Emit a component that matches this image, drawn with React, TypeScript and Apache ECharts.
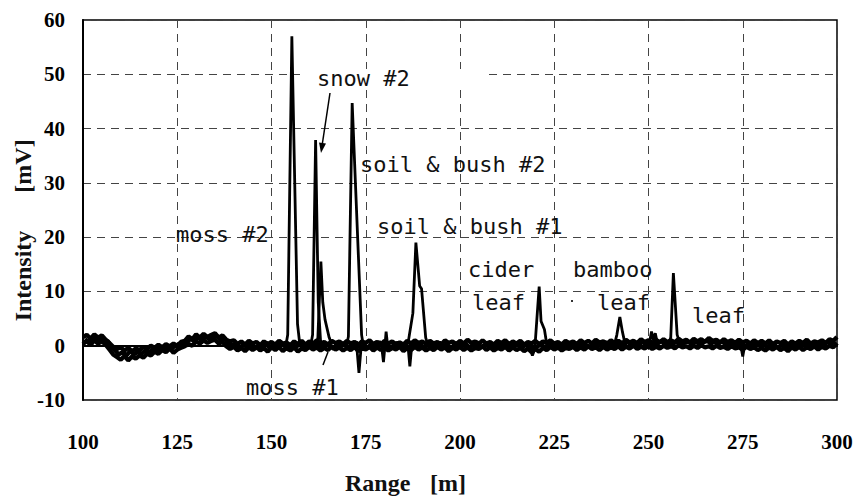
import React, { useEffect, useRef } from "react";
import * as echarts from "echarts";

// Range axis (m) and intensity axis (mV)
const xTicks = [100, 125, 150, 175, 200, 225, 250, 275, 300];
const yTicks = [-10, 0, 10, 20, 30, 40, 50, 60];
const baseStart = 100; // m, baseline traces A/B sampled every 1 m
const baseStep = 1;
const baseCStart = 100.5; // m, trace C sampled every 1 m, half-step offset

// baseline trace A (100..300 m)
const baseA = [
  1.6, 2.0, 1.3, 2.1, 1.5, 1.9, 1.1, 0.5, -0.2, -0.6,
  -0.3, -0.9, -0.4, -1.0, -0.5, -0.8, -0.2, -0.6, 0.0, -0.4,
  0.2, -0.3, 0.3, -0.1, 0.4, 0.0, 0.7, 0.9, 1.7, 1.2,
  2.1, 1.5, 2.2, 1.6, 2.0, 2.3, 1.5, 1.9, 1.1, 0.8,
  1.0, 0.3, 0.8, 0.2, 0.9, 0.4, 0.7, 0.1, 0.8, 0.3,
  0.7, 0.2, 0.9, 0.4, 0.6, 0.1, 0.8, 0.3, 0.9, 0.2,
  0.8, 0.4, 1.0, 0.3, 0.7, 0.2, 0.9, 0.5, 0.8, 0.3,
  0.9, 0.4, 0.7, 0.1, 0.8, 0.5, 1.0, 0.3, 0.7, 0.2,
  0.9, 0.4, 0.8, 0.3, 0.6, 0.2, 0.9, 0.4, 1.0, 0.5,
  0.8, 0.3, 0.9, 0.4, 0.7, 0.2, 1.0, 0.5, 0.8, 0.3,
  0.9, 0.4, 1.1, 0.5, 0.8, 0.3, 1.0, 0.4, 0.7, 0.2,
  0.9, 0.5, 1.0, 0.3, 0.8, 0.4, 0.9, 0.2, 0.7, 0.4,
  0.9, 0.3, 0.8, 0.5, 1.0, 0.4, 0.7, 0.2, 0.9, 0.5,
  0.8, 0.3, 1.0, 0.5, 0.9, 0.4, 1.1, 0.6, 0.8, 0.4,
  1.0, 0.5, 0.9, 0.4, 1.1, 0.6, 0.9, 0.5, 1.2, 0.7,
  1.0, 0.5, 1.1, 0.6, 1.2, 0.7, 1.0, 0.6, 1.3, 0.8,
  1.1, 0.6, 1.3, 0.8, 1.2, 0.7, 1.4, 0.9, 1.1, 0.6,
  1.2, 0.7, 1.0, 0.5, 1.1, 0.6, 0.9, 0.4, 1.0, 0.5,
  0.9, 0.4, 1.0, 0.3, 0.8, 0.5, 0.9, 0.2, 0.8, 0.4,
  0.9, 0.5, 1.1, 0.4, 0.8, 0.6, 1.0, 0.5, 1.2, 0.9,
  1.6,
];

// baseline trace B (100..300 m)
const baseB = [
  0.3, 0.9, 0.1, 1.0, 0.4, 0.8, 0.2, -0.7, -1.6, -2.1,
  -2.6, -1.9, -2.7, -2.0, -2.4, -1.8, -2.2, -1.5, -1.8, -1.1,
  -1.5, -0.8, -1.2, -0.5, -1.3, -0.7, -0.4, -0.1, 0.3, 0.0,
  0.8, 0.4, 1.0, 0.5, 0.9, 1.1, 0.4, 0.7, -0.1, -0.6,
  -0.2, -0.9, -0.4, -1.0, -0.3, -0.8, -0.2, -0.9, -0.4, -1.1,
  -0.3, -0.8, -0.2, -1.0, -0.4, -0.9, -0.3, -1.1, -0.5, -0.8,
  -0.2, -0.7, -0.3, -0.9, -0.4, -0.8, -0.1, -0.7, -0.3, -0.9,
  -0.4, -0.8, -0.2, -1.0, -0.5, -0.7, -0.2, -0.9, -0.3, -0.8,
  -0.3, -0.9, -0.4, -0.7, -0.2, -1.0, -0.4, -0.8, -0.2, -0.7,
  -0.3, -0.9, -0.4, -0.8, -0.2, -0.7, -0.3, -1.0, -0.4, -0.7,
  -0.2, -0.8, -0.3, -0.9, -0.4, -0.6, -0.1, -0.8, -0.3, -0.9,
  -0.4, -0.7, -0.2, -0.9, -0.3, -0.8, -0.4, -1.0, -0.5, -1.2,
  -0.6, -1.1, -0.4, -0.8, -0.2, -0.7, -0.3, -0.9, -0.4, -0.6,
  -0.2, -0.8, -0.3, -0.7, -0.1, -0.6, -0.3, -0.8, -0.2, -0.7,
  -0.3, -0.6, -0.1, -0.7, -0.2, -0.5, 0.0, -0.6, -0.2, -0.5,
  -0.1, -0.6, -0.2, -0.5, 0.0, -0.4, -0.1, -0.5, 0.1, -0.3,
  -0.1, -0.5, 0.0, -0.4, 0.1, -0.3, -0.1, -0.5, 0.0, -0.4,
  -0.2, -0.6, -0.1, -0.5, -0.3, -0.7, -0.2, -0.6, -0.3, -0.8,
  -0.4, -0.9, -0.3, -0.7, -0.2, -0.8, -0.4, -1.0, -0.3, -0.7,
  -0.2, -0.8, -0.3, -0.6, -0.1, -0.7, -0.2, -0.5, 0.0, -0.3,
  0.5,
];

// baseline trace C (100.5..299.5 m)
const baseC = [
  1.2, 0.6, 1.5, 0.9, 1.3, 0.7, 0.9, -0.2, -0.9, -1.6,
  -1.2, -1.8, -1.0, -1.6, -1.1, -1.5, -0.9, -1.3, -0.6, -0.9,
  -0.4, -0.9, -0.2, -0.6, 0.1, -0.3, 0.4, 0.6, 1.3, 0.8,
  1.6, 1.0, 1.7, 1.2, 1.5, 1.8, 1.0, 1.4, 0.4, 0.1,
  0.4, -0.5, 0.2, -0.3, 0.5, -0.6, 0.1, -0.2, 0.6, -0.4,
  0.2, -0.5, 0.4, -0.1, -0.7, 0.3, -0.3, 0.5, -0.4, 0.1,
  0.6, -0.2, 0.3, -0.5, 0.4, 0.0, -0.6, 0.5, -0.1, 0.3,
  -0.4, 0.2, 0.6, -0.3, 0.1, -0.5, 0.4, -0.2, 0.7, -0.1,
  0.3, -0.6, 0.2, 0.5, -0.3, 0.1, -0.4, 0.6, -0.2, 0.2,
  -0.5, 0.4, 0.0, -0.3, 0.6, -0.2, 0.3, -0.6, 0.2, 0.5,
  -0.1, 0.4, -0.4, 0.2, 0.7, -0.3, 0.1, 0.5, -0.5, 0.3,
  0.0, 0.6, -0.3, 0.2, -0.1, 0.5, -0.4, 0.3, 0.1, -0.6,
  -0.2, 0.4, -0.5, 0.3, 0.6, -0.2, 0.2, -0.4, 0.5, 0.0,
  0.3, -0.3, 0.6, 0.1, -0.2, 0.5, 0.2, -0.1, 0.7, 0.0,
  0.4, -0.2, 0.6, 0.2, 0.8, -0.1, 0.5, 0.3, 0.7, 0.1,
  0.6, 0.2, 0.4, 0.9, 0.1, 0.6, 0.3, 0.8, 0.2, 0.5,
  0.7, 0.3, 0.9, 0.2, 0.6, 1.0, 0.4, 0.7, 0.3, 0.8,
  0.2, 0.6, 0.0, 0.5, 0.3, -0.2, 0.4, 0.1, 0.6, 0.0,
  0.3, -0.3, 0.5, 0.1, -0.4, 0.4, 0.0, -0.5, 0.3, -0.1,
  0.4, 0.0, 0.6, -0.2, 0.3, 0.5, 0.1, 0.7, 0.4, 0.9,
];

// target echoes: [range m, intensity mV]
const moss2Peak = [[153.8, 0], [154.3, 2], [155.4, 57], [156.9, 4], [157.5, 0.3]];
const snow2Peak = [[160.4, 0], [160.9, 2], [161.7, 37.9], [162.4, 8], [163.0, 1], [163.5, 0]];
const moss1Peak = [[161.8, 0], [162.3, 1.5], [163.1, 15.5], [163.6, 8], [164.2, 4.8], [165.3, 1.5], [166.0, 0.2]];
const soil2Peak = [[170.0, 0.3], [170.4, 1.7], [171.4, 44.7], [173.9, 2], [174.3, 0.2]];
const soil1Peak = [[185.8, 0], [186.3, 0.8], [187.5, 6], [188.3, 19], [189.3, 11], [189.8, 10.5], [190.9, 1.5], [191.5, 0]];
const ciderPeak = [[219.9, 0], [220.4, 5], [221.0, 10.9], [221.5, 4.5], [222.4, 3.0], [223.0, 0.3]];
const bambooPeak = [[241.0, 0.3], [241.6, 2], [242.4, 5.3], [243.1, 2.5], [243.8, 0.3]];
const leafPeak = [[255.4, 0.5], [255.9, 1.5], [256.6, 13.4], [257.6, 2], [258.2, 0.8]];
const artifacts = [
  [172.6, 0], [173.2, -5], [173.8, 0], null,
  [179.2, 0], [179.7, -3], [180.1, 0], [180.4, 2.6], [180.8, 0], null,
  [186.2, 0], [186.7, -3.8], [187.2, 0], null,
  [218.5, -0.3], [219.2, -1.8], [219.9, -0.5], null,
  [250.2, 0.3], [250.8, 2.6], [251.3, 1.0], [251.8, 2.3], [252.4, 0.3], null,
  [274.5, 0], [275.0, -2], [275.5, 0],
];

const toPairs = (vals: number[], start: number) => vals.map((v, i) => [start + i * baseStep, v]);

const annoFont = '22px "DejaVu Sans Mono"';
const nameFont = 'bold 24px "Liberation Serif"';

const txt = (text: string, x: number, y: number, font = annoFont, extra: any = {}) => ({
  type: "text",
  x,
  y,
  z: 10,
  ...extra,
  style: {
    text,
    font,
    fill: "#111",
    align: extra.align || "left",
    verticalAlign: "middle",
    textAlign: extra.align || "left",
    textVerticalAlign: "middle",
  },
});

const peakSeries = (name: string, data: any[]) => ({
  name,
  type: "line",
  data,
  showSymbol: false,
  connectNulls: false,
  lineStyle: { color: "#000", width: 2.8 },
  z: 3,
});

const baseSeries = (name: string, vals: number[], start: number) => ({
  name,
  type: "line",
  data: toPairs(vals, start),
  showSymbol: false,
  lineStyle: { color: "#000", width: 4.3 },
  z: 2,
});

const tickLabel = {
  fontFamily: "Liberation Serif",
  fontWeight: "bold",
  fontSize: 21,
  color: "#000",
  formatter: (v: number) => "{t|" + v + "}",
  rich: {
    t: {
      fontFamily: "Liberation Serif",
      fontWeight: "bold",
      fontSize: 21,
      color: "#000",
    },
  },
};

export default function App() {
  const ref = useRef<HTMLDivElement>(null);
  useEffect(() => {
    const chart = echarts.init(ref.current!, null, { renderer: "svg" });
    chart.setOption({
      animation: false,
      backgroundColor: "#fff",
      grid: {
        left: 83,
        right: 23,
        top: 20,
        bottom: 100,
        show: true,
        borderColor: "#000",
        borderWidth: 1.5,
      },
      xAxis: {
        type: "value",
        min: xTicks[0],
        max: xTicks[xTicks.length - 1],
        interval: 25,
        axisLine: { show: true, lineStyle: { color: "#000", width: 2 } },
        axisTick: { show: false },
        axisLabel: { ...tickLabel, margin: 31 },
        splitLine: { show: true, lineStyle: { color: "#444", width: 1, type: [8, 6] } },
      },
      yAxis: {
        type: "value",
        min: yTicks[0],
        max: yTicks[yTicks.length - 1],
        interval: 10,
        axisLine: { show: true, lineStyle: { color: "#000", width: 2 } },
        axisTick: { show: false },
        axisLabel: { ...tickLabel, margin: 18 },
        splitLine: { show: true, lineStyle: { color: "#444", width: 1, type: [8, 6] } },
      },
      series: [
        baseSeries("baseline A", baseA, baseStart),
        baseSeries("baseline B", baseB, baseStart),
        baseSeries("baseline C", baseC, baseCStart),
        peakSeries("moss #2", moss2Peak),
        peakSeries("snow #2", snow2Peak),
        peakSeries("moss #1", moss1Peak),
        peakSeries("soil & bush #2", soil2Peak),
        peakSeries("soil & bush #1", soil1Peak),
        peakSeries("cider leaf", ciderPeak),
        peakSeries("bamboo leaf", bambooPeak),
        peakSeries("leaf", leafPeak),
        peakSeries("artifacts", artifacts),
      ],
      graphic: [
        { type: "rect", z: 1, shape: { x: 300, y: 69, width: 187, height: 17 }, style: { fill: "#fff" } },
        txt("moss #2", 176, 234),
        txt("snow #2", 317, 78),
        txt("soil & bush #2", 360, 164),
        txt("soil & bush #1", 377, 226),
        txt("cider", 468, 269),
        txt("leaf", 472, 302),
        txt("bamboo", 573, 269),
        txt("leaf", 597, 302),
        txt("leaf", 692, 315),
        txt("moss #1", 246, 387),
        { type: "line", z: 10, shape: { x1: 330, y1: 93, x2: 322, y2: 146 }, style: { stroke: "#000", lineWidth: 1.5 } },
        { type: "polygon", z: 10, shape: { points: [[321, 153], [326, 143.6], [319, 142.6]] }, style: { fill: "#000" } },
        { type: "line", z: 10, shape: { x1: 323, y1: 365, x2: 328, y2: 352 }, style: { stroke: "#000", lineWidth: 1.5 } },
        { type: "rect", z: 10, shape: { x: 571, y: 300, width: 2, height: 2 }, style: { fill: "#333" } },
        txt("Range", 345, 483, nameFont),
        txt("[m]", 430, 483, nameFont),
        txt("Intensity", 23, 276, nameFont, { rotation: Math.PI / 2, align: "center" }),
        txt("[mV]", 23, 166, nameFont, { rotation: Math.PI / 2, align: "center" }),
      ],
    });
    return () => chart.dispose();
  }, []);
  return (
    <div
      ref={ref}
      style={{ position: "fixed", left: 0, top: 0, width: 860, height: 500, background: "#fff" }}
    />
  );
}
